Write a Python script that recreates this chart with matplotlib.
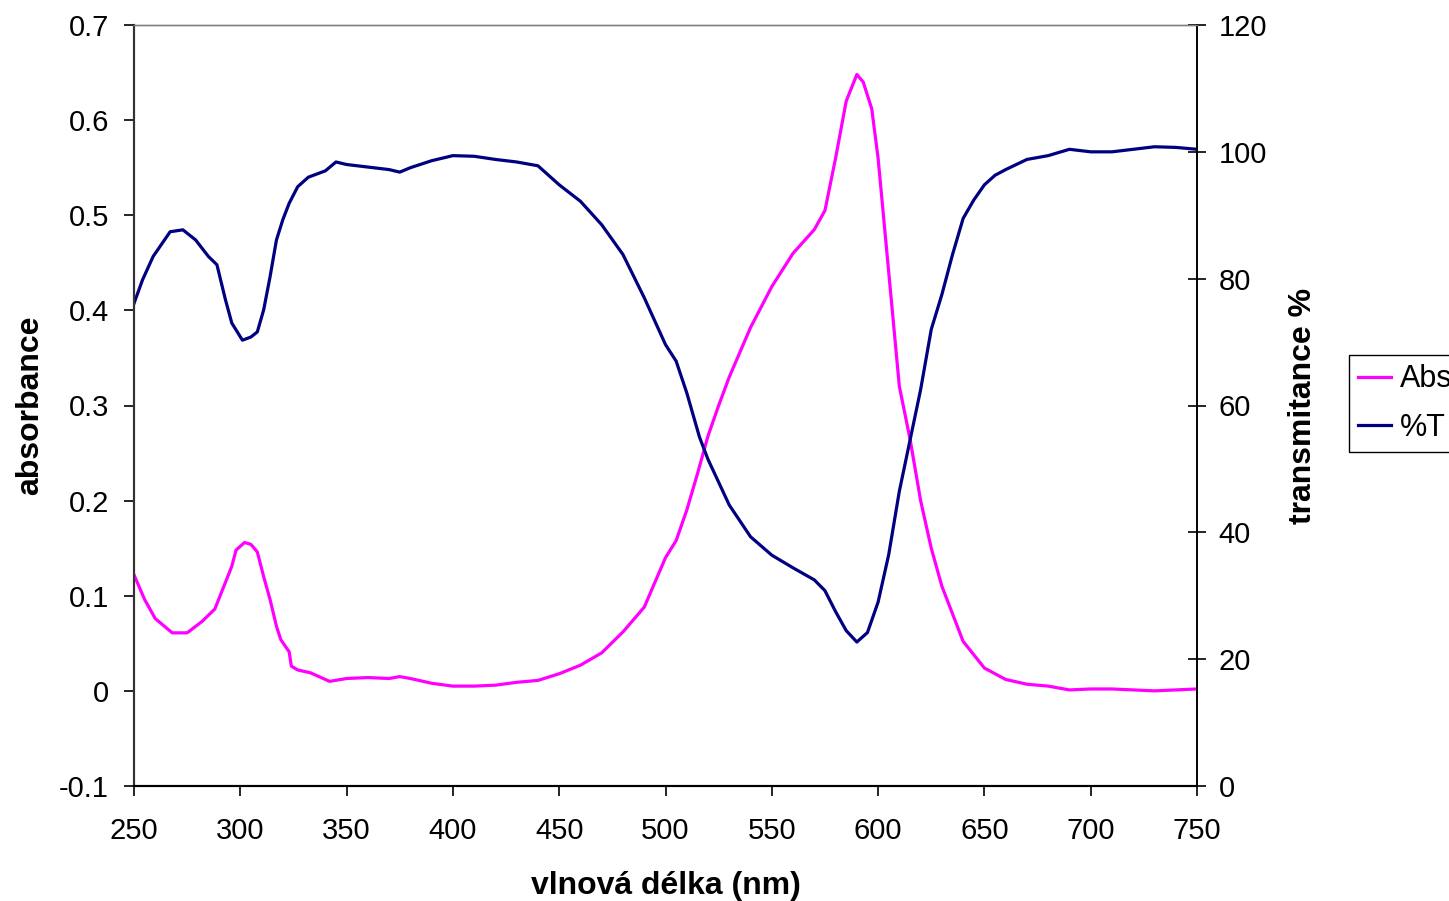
import matplotlib
matplotlib.use('Agg')
import matplotlib.pyplot as plt

plt.rcParams['font.family'] = ['Liberation Sans', 'DejaVu Sans']

# absorbance (left axis)
abs_nm = [250, 255, 260, 268, 275, 282, 288, 293, 296, 298, 302, 305, 308, 311, 314, 317,
          319, 323, 324, 327, 333, 342, 350, 360, 370, 375, 380, 390, 400, 410, 420, 430,
          440, 450, 460, 470, 480, 490, 500, 505, 510, 515, 520, 525, 530, 540, 550, 560,
          570, 575, 580, 585, 590, 593, 597, 600, 605, 610, 615, 620, 625, 630, 640, 650,
          660, 670, 680, 690, 700, 710, 720, 730, 740, 750]
absorb = [0.122, 0.096, 0.076, 0.061, 0.061, 0.073, 0.086, 0.114, 0.131, 0.148, 0.156, 0.154, 0.146, 0.120, 0.096, 0.068,
          0.054, 0.041, 0.026, 0.022, 0.019, 0.010, 0.013, 0.014, 0.013, 0.015, 0.013, 0.008, 0.005, 0.005, 0.006, 0.009,
          0.011, 0.018, 0.027, 0.040, 0.062, 0.088, 0.140, 0.158, 0.190, 0.228, 0.268, 0.300, 0.330, 0.382, 0.425, 0.460,
          0.485, 0.505, 0.560, 0.620, 0.648, 0.640, 0.612, 0.560, 0.440, 0.320, 0.265, 0.200, 0.150, 0.110, 0.052, 0.024,
          0.012, 0.007, 0.005, 0.001, 0.002, 0.002, 0.001, 0.000, 0.001, 0.002]

# transmitance % (right axis)
tr_nm = [250, 254, 259, 267, 273, 279, 285, 289, 293, 296, 301, 305, 308, 311, 314, 317,
         320, 323, 327, 332, 340, 345, 350, 360, 370, 375, 380, 390, 400, 410, 420, 430,
         440, 450, 460, 470, 480, 490, 500, 505, 510, 516, 520, 530, 540, 550, 560, 570,
         575, 580, 585, 590, 595, 600, 605, 610, 615, 620, 625, 630, 635, 640, 645, 650,
         655, 660, 670, 680, 690, 700, 710, 720, 730, 740, 750]
trans = [76.1, 79.8, 83.5, 87.4, 87.7, 86.1, 83.5, 82.2, 76.7, 73.0, 70.3, 70.8, 71.6, 75.1, 80.3, 86.1,
         89.3, 91.9, 94.5, 96.0, 97.0, 98.4, 98.0, 97.6, 97.2, 96.8, 97.5, 98.6, 99.4, 99.3, 98.8, 98.4,
         97.8, 94.8, 92.2, 88.5, 83.8, 77.0, 69.6, 67.0, 62.0, 55.0, 51.5, 44.3, 39.3, 36.4, 34.4, 32.5,
         30.8, 27.5, 24.5, 22.7, 24.2, 29.0, 36.5, 46.5, 54.5, 62.5, 72.0, 77.5, 83.8, 89.5, 92.4, 94.8,
         96.3, 97.2, 98.8, 99.4, 100.4, 100.0, 100.0, 100.4, 100.8, 100.7, 100.4]

fig = plt.figure(figsize=(14.49, 9.01), dpi=100)
ax1 = fig.add_axes([134 / 1449, 1 - 786 / 901, (1197 - 134) / 1449, (786 - 25) / 901])
ax2 = ax1.twinx()

l1, = ax1.plot(abs_nm, absorb, color='#ff00ff', linewidth=2.3, label='Absorbance')
l2, = ax2.plot(tr_nm, trans, color='#000080', linewidth=2.3, label='%T')

ax1.set_xlim(250, 750)
ax1.set_ylim(-0.1, 0.7)
ax2.set_ylim(0, 120)
ax1.set_xticks(range(250, 751, 50))
ax1.set_yticks([-0.1, 0, 0.1, 0.2, 0.3, 0.4, 0.5, 0.6, 0.7])
ax1.set_yticklabels(['-0.1', '0', '0.1', '0.2', '0.3', '0.4', '0.5', '0.6', '0.7'])
ax2.set_yticks(range(0, 121, 20))

ax1.tick_params(axis='x', labelsize=21, direction='out', length=7, width=1.2, pad=15)
ax1.tick_params(axis='y', labelsize=21, direction='out', length=7, width=1.2, pad=11)
ax2.tick_params(axis='y', labelsize=21, direction='inout', length=13, width=1.2, pad=9)

for ax in (ax1, ax2):
    ax.spines['top'].set_color('#808080')
    ax.spines['top'].set_linewidth(1)
    ax.spines['left'].set_color('#333333')
    ax.spines['left'].set_linewidth(1.5)
    ax.spines['right'].set_color('black')
    ax.spines['right'].set_linewidth(1.2)
    ax.spines['bottom'].set_color('black')
    ax.spines['bottom'].set_linewidth(1.5)

ax1.set_xlabel('vlnová délka (nm)', fontsize=23, fontweight='bold', labelpad=19)
ax1.set_ylabel('absorbance', fontsize=23, fontweight='bold', labelpad=10)
ax2.set_ylabel('transmitance %', fontsize=23, fontweight='bold', labelpad=15)

fig.legend([l1, l2], ['Absorbance', '%T'], loc='upper left',
           bbox_to_anchor=(1349 / 1449, 1 - 355 / 901), borderaxespad=0,
           fontsize=22, frameon=True, fancybox=False, edgecolor='black',
           framealpha=1, handlelength=1.05, handletextpad=0.3,
           labelspacing=0.6, borderpad=0.31)

plt.savefig('out.png', dpi=100)
